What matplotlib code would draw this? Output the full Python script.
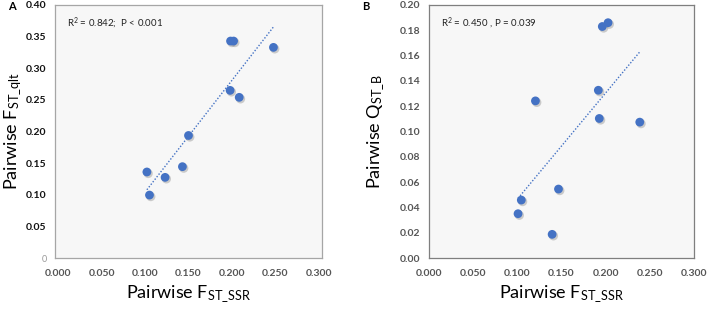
import numpy as np
import matplotlib
matplotlib.use('Agg')
import matplotlib.pyplot as plt

plt.rcParams['font.family'] = ['Lato', 'DejaVu Sans']
plt.rcParams['mathtext.fontset'] = 'custom'
plt.rcParams['mathtext.rm'] = 'Lato'
plt.rcParams['mathtext.it'] = 'Lato:italic'
plt.rcParams['mathtext.bf'] = 'Lato:bold'

# Panel A: pairwise FST_SSR vs FST_qlt
fst_ssr_a = [0.102, 0.105, 0.123, 0.143, 0.150, 0.198, 0.2085, 0.1985, 0.202, 0.248]
fst_qlt_a = [0.136, 0.0995, 0.1275, 0.1444, 0.1937, 0.265, 0.254, 0.343, 0.343, 0.333]

# Panel B: pairwise FST_SSR vs QST_B
fst_ssr_b = [0.1008, 0.1045, 0.1205, 0.1394, 0.1466, 0.1917, 0.1928, 0.1962, 0.2027, 0.2386]
qst_b = [0.035, 0.0458, 0.1242, 0.0187, 0.0545, 0.1326, 0.1103, 0.183, 0.186, 0.1074]

x_ticks = [0.0, 0.05, 0.10, 0.15, 0.20, 0.25, 0.30]
y_ticks_a = [0.0, 0.05, 0.10, 0.15, 0.20, 0.25, 0.30, 0.35, 0.40]
y_labels_a = ['0', '0.05', '0.10', '0.15', '0.20', '0.25', '0.30', '0.35', '0.40']
y_ticks_b = [0.0, 0.02, 0.04, 0.06, 0.08, 0.10, 0.12, 0.14, 0.16, 0.18, 0.20]

BLUE = '#4472c4'
W, H = 708, 310


def draw_panel(ax, x, y, xlim, ylim, yticks, ylabels, ylabel, note, ylab_x,
               ytick_color, spine_color):
    x = np.array(x)
    y = np.array(y)
    ax.set_facecolor('#f7f7f7')
    # soft shadow under the markers
    ax.scatter(x + 0.0015, y - (ylim[1] - ylim[0]) * 0.006, s=44, color='#777777',
               alpha=0.35, edgecolors='none', zorder=2)
    ax.scatter(x, y, s=40, color=BLUE, edgecolors='none', zorder=3)
    # linear trend line over the data range
    slope, icpt = np.polyfit(x, y, 1)
    xs = np.array([x.min(), x.max()])
    ax.plot(xs, slope * xs + icpt, ls=(0, (1, 1.3)), color=BLUE, lw=1.0, zorder=2)

    ax.set_xlim(*xlim)
    ax.set_ylim(*ylim)
    ax.set_xticks(x_ticks)
    ax.set_xticklabels(['%.3f' % v for v in x_ticks])
    ax.set_yticks(yticks)
    ax.set_yticklabels(ylabels)
    ax.tick_params(length=0, labelsize=7.5)
    ax.tick_params(axis='x', pad=8, labelcolor='#555555')
    ax.tick_params(axis='y', pad=6, labelcolor=ytick_color)
    for lab in ax.get_xticklabels() + ax.get_yticklabels():
        lab.set_fontweight('bold')
    for sp in ax.spines.values():
        sp.set_color(spine_color)
        sp.set_linewidth(0.9)
    ax.set_xlabel(r'Pairwise F$_{\mathrm{ST\_SSR}}$', fontsize=13)
    ax.set_ylabel(ylabel, fontsize=13)
    ax.xaxis.set_label_coords(0.5, -0.1)
    ax.yaxis.set_label_coords(ylab_x, 0.5)
    ax.text(0.044, 0.929, note, transform=ax.transAxes, fontsize=7,
            va='center', ha='left', color='#222222')


fig = plt.figure(figsize=(W / 100, H / 100), dpi=100)
ax_a = fig.add_axes([55 / W, 1 - 258 / H, (322 - 55) / W, (258 - 5) / H])
ax_b = fig.add_axes([429 / W, 1 - 258 / H, (694 - 429) / W, (258 - 5) / H])

draw_panel(ax_a, fst_ssr_a, fst_qlt_a, (-0.004, 0.304), (0, 0.4), y_ticks_a, y_labels_a,
           r'Pairwise F$_{\mathrm{ST\_qlt}}$', r'R$^2$ = 0.842;  P < 0.001', -0.115,
           '#111111', '#a6a6a6')
draw_panel(ax_b, fst_ssr_b, qst_b, (0, 0.3), (0, 0.2), y_ticks_b,
           ['%.2f' % v for v in y_ticks_b],
           r'Pairwise Q$_{\mathrm{ST\_B}}$', r'R$^2$ = 0.450 , P = 0.039', -0.16,
           '#555555', '#7f7f7f')

# the lone "0" on panel A is drawn light and plain, tucked next to the axis
zero_lab = ax_a.get_yticklabels()[0]
zero_lab.set_fontweight('normal')
zero_lab.set_color('#999999')
zero_lab.set_fontsize(6.5)

fig.text(8 / W, 1 - 6 / H, 'A', fontsize=8, fontweight='bold', va='center', ha='left')
fig.text(362 / W, 1 - 6 / H, 'B', fontsize=8, fontweight='bold', va='center', ha='left')

fig.savefig('out.png', dpi=100)
